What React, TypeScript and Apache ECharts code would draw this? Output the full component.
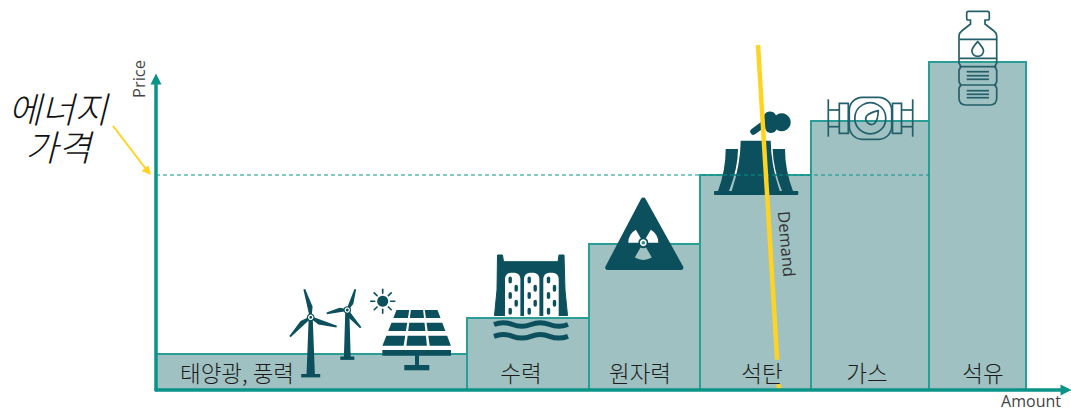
import React, { useEffect, useRef } from "react";
import * as echarts from "echarts";

// Merit-order supply blocks: width is generated amount, height is price.
const sources = ["태양광, 풍력", "수력", "원자력", "석탄", "가스", "석유"];
const amounts = [311, 122, 111, 111, 118, 97];
const prices = [36, 72, 146, 215, 269, 328];
const labelOffsets = [81, 54, 51, 62, 56, 54];
const marketPrice = 215;
const demandAmounts = [602, 623];
const demandPrices = [345, 0];

const TEAL = "#0a9389";
const EDGE = "#2a9d96";
const BLOCK = "#a0c1c1";
const ICON = "#0b505c";
const LINE_ICON = "#245f6b";
const YELLOW = "#ffd320";
const CJK = '"Noto Sans CJK KR", "Noto Sans", sans-serif';

echarts.graphic.registerShape(
  "waveRow",
  echarts.graphic.extendPath("M0 0 q9.25 -3.4 18.5 0 t18.5 0 t18.5 0 t18.5 0", {})
);
echarts.graphic.registerShape(
  "towerMiddle",
  echarts.graphic.extendPath(
    "M740.7 140.7 L770.7 140.7 Q771 165 779.7 191 L731.7 191 Q740.4 165 740.7 140.7 Z",
    {}
  )
);
echarts.graphic.registerShape(
  "towerLeft",
  echarts.graphic.extendPath(
    "M725.7 149 L738 149 Q738 168 729 191 L718 191 Q725.7 170 725.7 149 Z",
    {}
  )
);
echarts.graphic.registerShape(
  "towerRight",
  echarts.graphic.extendPath(
    "M772.7 149 L785 149 Q785 170 793 191 L782 191 Q773 168 772.7 149 Z",
    {}
  )
);
echarts.graphic.registerShape(
  "bottleOutline",
  echarts.graphic.extendPath(
    "M968.5 11.3 L987.5 11.3 Q989.3 11.3 989.3 13 L989.3 18.5 Q989.3 20 987.5 20 L985 20 L985 24 L994 31 Q996.7 33 996.7 36 L996.7 63 L994.7 66.7 L996.7 70 L996.7 82 L994.7 85 L996.7 88 L996.7 98 Q996.7 105 989.7 105 L966 105 Q959 105 959 98 L959 88 L961 85 L959 82 L959 70 L961 66.7 L959 63 L959 36 Q959 33 961.7 31 L970.5 24 L970.5 20 L968.5 20 Q966.7 20 966.7 18.5 L966.7 13 Q966.7 11.3 968.5 11.3 Z",
    {}
  )
);
echarts.graphic.registerShape(
  "dropOutline",
  echarts.graphic.extendPath(
    "M977.7 41.7 Q983.5 48 983.5 51 A5.8 5.4 0 0 1 971.9 51 Q971.9 48 977.7 41.7 Z",
    {}
  )
);
echarts.graphic.registerShape(
  "gaugeNeedle",
  echarts.graphic.extendPath(
    "M878.3 110.7 Q878 120 874.6 123.4 A5.6 5.6 0 0 1 866.6 116 Q870 112.6 878.3 110.7 Z",
    {}
  )
);

const solid = (extra: object = {}) => ({ fill: ICON, ...extra });
const stroked = (width = 1.7) => ({ fill: "none", stroke: LINE_ICON, lineWidth: width });

// A tapered turbine blade running from the hub out to its tip.
function blade(hx: number, hy: number, tx: number, ty: number, w: number) {
  const dx = tx - hx;
  const dy = ty - hy;
  const len = Math.hypot(dx, dy);
  const nx = -dy / len;
  const ny = dx / len;
  return {
    type: "polygon",
    z: 3,
    shape: {
      points: [
        [hx + nx * 1, hy + ny * 1],
        [hx + dx * 0.35 + nx * w, hy + dy * 0.35 + ny * w],
        [tx + nx * 0.9, ty + ny * 0.9],
        [tx - nx * 0.9, ty - ny * 0.9],
        [hx - nx * 1, hy - ny * 1],
      ],
    },
    style: solid(),
  };
}

function turbine(
  hx: number,
  hy: number,
  tips: number[][],
  baseY: number,
  baseHalf: number,
  foot: number,
  bladeW: number
) {
  return [
    {
      type: "polygon",
      z: 3,
      shape: {
        points: [
          [hx - 2, hy],
          [hx + 2, hy],
          [hx + foot, baseY],
          [hx - foot, baseY],
        ],
      },
      style: solid(),
    },
    { type: "rect", z: 3, shape: { x: hx - baseHalf, y: baseY - 1, width: baseHalf * 2, height: 3.4 }, style: solid() },
    ...tips.map(([tx, ty]) => blade(hx, hy, tx, ty, bladeW)),
    { type: "circle", z: 3, shape: { cx: hx, cy: hy, r: 3.8 }, style: solid() },
    { type: "circle", z: 3, shape: { cx: hx, cy: hy, r: 2.7 }, style: { fill: "#ffffff" } },
    { type: "circle", z: 3, shape: { cx: hx, cy: hy, r: 1.4 }, style: solid() },
  ];
}

function sun(cx: number, cy: number) {
  const rays = [0, 45, 90, 135, 180, 225, 270, 315].map((deg) => {
    const a = (deg * Math.PI) / 180;
    return {
      type: "line",
      z: 3,
      shape: {
        x1: cx + Math.cos(a) * 8,
        y1: cy + Math.sin(a) * 8,
        x2: cx + Math.cos(a) * 12,
        y2: cy + Math.sin(a) * 12,
      },
      style: { stroke: ICON, lineWidth: 1.6, lineCap: "round" },
    };
  });
  return [{ type: "circle", z: 3, shape: { cx, cy, r: 5.5 }, style: solid() }, ...rays];
}

function solarPanel() {
  const rows = [
    [310, 318],
    [322.7, 331],
    [335.7, 345.7],
  ];
  const topL = 396.5;
  const topR = 437.5;
  const botL = 382.3;
  const botR = 451;
  const edge = (y: number, u: number) => {
    const t = (y - 310) / 36;
    const l = topL + (botL - topL) * t;
    const r = topR + (botR - topR) * t;
    return l + (r - l) * u;
  };
  const cols = [
    [0, 0.31],
    [0.35, 0.65],
    [0.69, 1],
  ];
  const cells: object[] = [];
  rows.forEach(([y0, y1]) =>
    cols.forEach(([u0, u1]) =>
      cells.push({
        type: "polygon",
        z: 3,
        shape: {
          points: [
            [edge(y0, u0), y0],
            [edge(y0, u1), y0],
            [edge(y1, u1), y1],
            [edge(y1, u0), y1],
          ],
        },
        style: solid(),
      })
    )
  );
  return [
    ...cells,
    { type: "rect", z: 3, shape: { x: 382.3, y: 350, width: 68.7, height: 5.7 }, style: solid() },
    { type: "rect", z: 3, shape: { x: 415, y: 355, width: 4, height: 11 }, style: solid() },
    { type: "rect", z: 3, shape: { x: 404.3, y: 365, width: 25, height: 5.3 }, style: solid() },
  ];
}

function dam() {
  const gates = [505, 524, 543.3];
  const parts: object[] = [
    {
      type: "polygon",
      z: 3,
      shape: {
        points: [
          [497.5, 255],
          [502.5, 255],
          [503.5, 261.7],
          [558, 261.7],
          [559, 255],
          [564, 255],
          [565, 290],
          [567.5, 315.5],
          [494.5, 315.5],
          [497, 290],
        ],
      },
      style: solid({ stroke: ICON, lineWidth: 1, lineJoin: "round" }),
    },
  ];
  gates.forEach((x0) => {
    parts.push({
      type: "rect",
      z: 3,
      shape: { x: x0, y: 272.7, width: 15.4, height: 43.3, r: [6, 6, 0, 0] },
      style: { fill: "#ffffff" },
    });
    [280, 288.3, 295.5, 303.3, 311.2].forEach((y, i) =>
      parts.push({
        type: "rect",
        z: 3,
        shape: { x: x0 + (i % 2 ? 9.5 : 3.5), y: y - 3.5, width: 3.4, height: 7, r: 1.7 },
        style: solid(),
      })
    );
  });
  [324.5, 336.3].forEach((y) =>
    parts.push({
      type: "waveRow",
      z: 3,
      x: 494,
      y,
      style: { fill: "none", stroke: ICON, lineWidth: 5 },
    })
  );
  return parts;
}

function radiationSign() {
  const cx = 643.3;
  const cy = 242.7;
  const rad = (d: number) => (d * Math.PI) / 180;
  return [
    {
      type: "polygon",
      z: 3,
      shape: { points: [[643.3, 200], [607.7, 267.6], [680.9, 267.6]] },
      style: solid({ stroke: ICON, lineWidth: 5, lineJoin: "round" }),
    },
    { type: "sector", z: 3, shape: { cx, cy, r: 15, r0: 5, startAngle: rad(180), endAngle: rad(240) }, style: { fill: "#ffffff" } },
    { type: "sector", z: 3, shape: { cx, cy, r: 15, r0: 5, startAngle: rad(300), endAngle: rad(360) }, style: { fill: "#ffffff" } },
    { type: "sector", z: 3, shape: { cx, cy, r: 17, r0: 5.5, startAngle: rad(60), endAngle: rad(120) }, style: { fill: BLOCK } },
    { type: "circle", z: 3, shape: { cx, cy, r: 3.4 }, style: { fill: "#ffffff" } },
    { type: "circle", z: 3, shape: { cx, cy, r: 1.8 }, style: { fill: "#2f8f8a" } },
  ];
}

function coalPlant() {
  return [
    { type: "towerLeft", z: 3, style: solid() },
    { type: "towerMiddle", z: 3, style: solid() },
    { type: "towerRight", z: 3, style: solid() },
    { type: "rect", z: 3, shape: { x: 714, y: 191, width: 84.3, height: 4, r: 1 }, style: solid() },
    { type: "line", z: 3, shape: { x1: 753.5, y1: 131.5, x2: 765, y2: 123 }, style: { stroke: ICON, lineWidth: 6.5, lineCap: "round" } },
    { type: "circle", z: 3, shape: { cx: 770, cy: 118, r: 6.5 }, style: solid() },
    { type: "circle", z: 3, shape: { cx: 771, cy: 127, r: 6 }, style: solid() },
    { type: "circle", z: 3, shape: { cx: 781.7, cy: 122.3, r: 9 }, style: solid() },
  ];
}

function gasMeter() {
  const s = stroked();
  const line = (x1: number, y1: number, x2: number, y2: number) => ({
    type: "line",
    z: 3,
    shape: { x1, y1, x2, y2 },
    style: s,
  });
  return [
    { type: "rect", z: 3, shape: { x: 849.3, y: 97.3, width: 42.4, height: 42, r: 13 }, style: s },
    { type: "circle", z: 3, shape: { cx: 870.3, cy: 118.3, r: 15.5 }, style: s },
    { type: "gaugeNeedle", z: 3, style: s },
    { type: "rect", z: 3, shape: { x: 839.3, y: 103.3, width: 9, height: 30 }, style: s },
    { type: "rect", z: 3, shape: { x: 892.5, y: 103.3, width: 9, height: 30 }, style: s },
    line(828.3, 110, 839.3, 110),
    line(828.3, 126.7, 839.3, 126.7),
    line(901.5, 110, 912.7, 110),
    line(901.5, 126.7, 912.7, 126.7),
    line(828.3, 99.3, 828.3, 136.7),
    line(912.7, 99.3, 912.7, 136.7),
  ];
}

function oilBottle() {
  const s = stroked();
  const band = (y: number) => ({
    type: "line",
    z: 3,
    shape: { x1: 959.5, y1: y, x2: 996.5, y2: y },
    style: s,
  });
  const rule = (y: number) => ({
    type: "line",
    z: 3,
    shape: { x1: 966.7, y1: y, x2: 989, y2: y },
    style: s,
  });
  return [
    { type: "bottleOutline", z: 3, style: s },
    { type: "dropOutline", z: 3, style: s },
    band(39.3),
    band(58.3),
    band(66.7),
    band(85),
    ...[71.7, 75.7, 79.3, 90.7, 94.3, 97.7].map(rule),
  ];
}

export default function App() {
  const host = useRef<HTMLDivElement>(null);

  useEffect(() => {
    if (!host.current) return;
    const chart = echarts.init(host.current, undefined, { renderer: "svg" });

    let running = 0;
    const blocks = amounts.map((w, i) => {
      const start = running;
      running += w;
      return [start, running, prices[i], i];
    });

    chart.setOption({
      animation: false,
      grid: { left: 156, top: 79, width: 910, height: 311 },
      xAxis: {
        type: "value",
        min: 0,
        max: 910,
        z: 8,
        name: "Amount",
        nameLocation: "end",
        nameGap: -5,
        nameTextStyle: {
          fontFamily: '"Open Sans", sans-serif',
          fontSize: 16,
          color: "#444444",
          align: "right",
          verticalAlign: "top",
          lineHeight: 16,
          padding: [3, 0, 0, 0],
        },
        axisLine: {
          onZero: false,
          symbol: ["none", "triangle"],
          symbolSize: [11, 11],
          lineStyle: { color: TEAL, width: 3.5 },
        },
        axisTick: { show: false },
        axisLabel: { show: false },
        splitLine: { show: false },
      },
      yAxis: {
        type: "value",
        min: 0,
        max: 311,
        z: 8,
        name: "Price",
        nameLocation: "end",
        nameRotate: 90,
        nameGap: -19,
        nameTextStyle: {
          fontFamily: '"Open Sans", sans-serif',
          fontSize: 16.5,
          color: "#444444",
          align: "left",
          verticalAlign: "bottom",
          padding: [0, 0, 9, 0],
        },
        axisLine: {
          onZero: false,
          symbol: ["none", "triangle"],
          symbolSize: [11, 11],
          lineStyle: { color: TEAL, width: 3.5 },
        },
        axisTick: { show: false },
        axisLabel: { show: false },
        splitLine: { show: false },
      },
      graphic: {
        elements: [
          ...turbine(310.7, 317.3, [[304.3, 289.3], [336.7, 326.7], [290, 336.7]], 375, 9.5, 4.2, 4.2),
          ...turbine(347.3, 310, [[355.3, 289.3], [326.7, 313.3], [360.7, 327.7]], 357.5, 7, 3.4, 3.4),
          ...sun(382.7, 301.3),
          ...solarPanel(),
          ...dam(),
          ...radiationSign(),
          ...coalPlant(),
          ...gasMeter(),
          ...oilBottle(),
          {
            type: "text",
            z: 7,
            x: 58,
            y: 126,
            style: {
              text: "에너지\n가격",
              fontFamily: CJK,
              fontSize: 36,
              fontStyle: "italic",
              fontWeight: 300,
              fill: "#111111",
              align: "center",
              verticalAlign: "middle",
              lineHeight: 38,
            },
          },
          {
            type: "line",
            z: 7,
            shape: { x1: 113, y1: 126, x2: 146, y2: 169 },
            style: { stroke: YELLOW, lineWidth: 2 },
          },
          {
            type: "polygon",
            z: 7,
            shape: { points: [[151, 175], [141.5, 171], [148.5, 165.5]] },
            style: { fill: YELLOW },
          },
          {
            type: "text",
            z: 7,
            x: 787,
            y: 244,
            rotation: (-85 * Math.PI) / 180,
            style: {
              text: "Demand",
              fontFamily: '"Open Sans", sans-serif',
              fontSize: 16.5,
              fill: "#333333",
              align: "center",
              verticalAlign: "middle",
            },
          },
        ],
      },
      series: [
        {
          type: "custom",
          z: 1,
          clip: false,
          data: blocks,
          encode: { x: [0, 1], y: 2 },
          renderItem: (_p: unknown, api: any) => {
            const a = api.coord([api.value(0), api.value(2)]);
            const b = api.coord([api.value(1), 0]);
            return {
              type: "rect",
              shape: { x: a[0], y: a[1], width: b[0] - a[0], height: b[1] - a[1] },
              style: { fill: BLOCK, stroke: EDGE, lineWidth: 2 },
            };
          },
        },
        {
          type: "line",
          z: 4,
          symbol: "none",
          silent: true,
          data: [
            [0, marketPrice],
            [running - amounts[amounts.length - 1], marketPrice],
          ],
          lineStyle: { color: TEAL, width: 1, type: [4, 3] },
        },
        {
          type: "line",
          z: 5,
          symbol: "none",
          silent: true,
          clip: false,
          data: demandAmounts.map((x, i) => [x, demandPrices[i]]),
          lineStyle: { color: YELLOW, width: 4.5, cap: "butt" },
        },
        {
          type: "custom",
          z: 6,
          clip: false,
          data: blocks,
          encode: { x: 0, y: 3 },
          renderItem: (_p: unknown, api: any) => {
            const i = api.value(3);
            const p = api.coord([api.value(0) + labelOffsets[i], 18]);
            return {
              type: "text",
              x: p[0],
              y: p[1],
              style: {
                text: sources[i],
                fontFamily: CJK,
                fontSize: 22.5,
                fontWeight: 300,
                fill: "#1c1c1c",
                align: "center",
                verticalAlign: "middle",
                backgroundColor: BLOCK,
                padding: [1, 2],
              },
            };
          },
        },
      ],
    });

    return () => chart.dispose();
  }, []);

  return <div ref={host} style={{ position: "absolute", left: 0, top: 0, width: 1071, height: 412 }} />;
}
